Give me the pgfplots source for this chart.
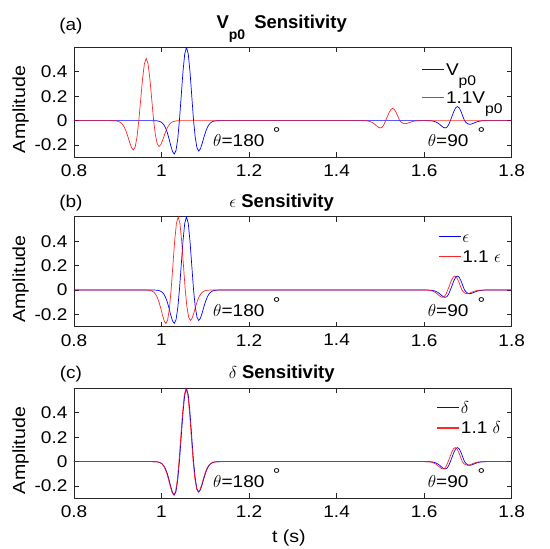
\documentclass[border=0pt]{standalone}
\usepackage{pgfplots}
\usepackage{pgfplotstable}
\pgfplotsset{compat=1.18}
\usepackage{fontspec}
\setmainfont{Liberation Sans}[FakeStretch=1.12]
\newfontfamily\titlefont{Liberation Sans}

% baseline model (same in all panels)
\pgfplotstableread{
t y
0.800 0
0.977 0
0.981 -0.0002
0.985 -0.0005
0.989 -0.0014
0.993 -0.0036
0.997 -0.0080
1.001 -0.0167
1.005 -0.0324
1.009 -0.0583
1.013 -0.0966
1.017 -0.1468
1.021 -0.2031
1.025 -0.2517
1.029 -0.2732
1.033 -0.2448
1.037 -0.1510
1.041 0.0076
1.045 0.2045
1.049 0.4009
1.053 0.5463
1.057 0.6000
1.061 0.5463
1.065 0.4009
1.069 0.2045
1.073 0.0076
1.077 -0.1376
1.081 -0.2232
1.085 -0.2491
1.089 -0.2295
1.093 -0.1852
1.097 -0.1338
1.101 -0.0881
1.105 -0.0532
1.109 -0.0296
1.113 -0.0153
1.117 -0.0073
1.121 -0.0033
1.125 -0.0013
1.129 -0.0005
1.133 -0.0002
1.137 0
1.600 0
1.604 -0.0001
1.608 -0.0003
1.612 -0.0008
1.616 -0.0017
1.620 -0.0037
1.624 -0.0071
1.628 -0.0128
1.632 -0.0212
1.636 -0.0322
1.640 -0.0446
1.644 -0.0553
1.648 -0.0600
1.652 -0.0538
1.656 -0.0332
1.660 0.0014
1.664 0.0392
1.668 0.0768
1.672 0.1047
1.676 0.1150
1.680 0.1047
1.684 0.0768
1.688 0.0392
1.692 0.0014
1.696 -0.0166
1.700 -0.0269
1.704 -0.0300
1.708 -0.0276
1.712 -0.0223
1.716 -0.0161
1.720 -0.0106
1.724 -0.0064
1.728 -0.0036
1.732 -0.0018
1.736 -0.0009
1.740 -0.0004
1.744 0
1.800 0
}\baseline

% 1.1 Vp0
\pgfplotstableread{
t y
0.800 0
0.881 0
0.8852 -0.0002
0.8894 -0.0005
0.8936 -0.0013
0.8978 -0.0031
0.9020 -0.0070
0.9062 -0.0147
0.9104 -0.0285
0.9146 -0.0513
0.9188 -0.0849
0.9230 -0.1291
0.9272 -0.1785
0.9314 -0.2213
0.9356 -0.2401
0.9398 -0.2152
0.9440 -0.1327
0.9482 0.0064
0.9524 0.1739
0.9566 0.3407
0.9608 0.4644
0.9650 0.5100
0.9692 0.4644
0.9734 0.3407
0.9776 0.1739
0.9818 0.0064
0.9860 -0.1170
0.9902 -0.1897
0.9944 -0.2117
0.9986 -0.1951
1.0028 -0.1574
1.0070 -0.1138
1.0112 -0.0748
1.0154 -0.0452
1.0196 -0.0251
1.0238 -0.0129
1.0280 -0.0062
1.0322 -0.0028
1.0364 -0.0011
1.0406 -0.0004
1.0448 -0.0001
1.049 0
1.452 0
1.456 -0.0001
1.460 -0.0003
1.464 -0.0008
1.468 -0.0017
1.472 -0.0037
1.476 -0.0071
1.480 -0.0128
1.484 -0.0212
1.488 -0.0322
1.492 -0.0446
1.496 -0.0553
1.500 -0.0600
1.504 -0.0538
1.508 -0.0332
1.512 0.0013
1.516 0.0341
1.520 0.0668
1.524 0.0911
1.528 0.1000
1.532 0.0911
1.536 0.0668
1.540 0.0341
1.544 0.0013
1.548 -0.0138
1.552 -0.0224
1.556 -0.0250
1.560 -0.0230
1.564 -0.0186
1.568 -0.0134
1.572 -0.0088
1.576 -0.0053
1.580 -0.0030
1.584 -0.0015
1.588 -0.0007
1.592 -0.0003
1.596 0
1.800 0
}\vpred

% 1.1 epsilon
\pgfplotstableread{
t y
0.800 0
0.958 0
0.962 -0.0002
0.966 -0.0005
0.970 -0.0014
0.974 -0.0036
0.978 -0.0080
0.982 -0.0167
0.986 -0.0324
0.990 -0.0583
0.994 -0.0966
0.998 -0.1468
1.002 -0.2031
1.006 -0.2517
1.010 -0.2732
1.014 -0.2448
1.018 -0.1510
1.022 0.0076
1.026 0.2045
1.030 0.4009
1.034 0.5463
1.038 0.6000
1.042 0.5463
1.046 0.4009
1.050 0.2045
1.054 0.0076
1.058 -0.1376
1.062 -0.2232
1.066 -0.2491
1.070 -0.2295
1.074 -0.1852
1.078 -0.1338
1.082 -0.0881
1.086 -0.0532
1.090 -0.0296
1.094 -0.0153
1.098 -0.0073
1.102 -0.0033
1.106 -0.0013
1.110 -0.0005
1.114 -0.0002
1.118 0
1.594 0
1.598 -0.0001
1.602 -0.0003
1.606 -0.0008
1.610 -0.0017
1.614 -0.0037
1.618 -0.0071
1.622 -0.0128
1.626 -0.0212
1.630 -0.0322
1.634 -0.0446
1.638 -0.0553
1.642 -0.0600
1.646 -0.0538
1.650 -0.0332
1.654 0.0014
1.658 0.0392
1.662 0.0768
1.666 0.1047
1.670 0.1150
1.674 0.1047
1.678 0.0768
1.682 0.0392
1.686 0.0014
1.690 -0.0166
1.694 -0.0269
1.698 -0.0300
1.702 -0.0276
1.706 -0.0223
1.710 -0.0161
1.714 -0.0106
1.718 -0.0064
1.722 -0.0036
1.726 -0.0018
1.730 -0.0009
1.734 -0.0004
1.738 0
1.800 0
}\epsred

% 1.1 delta
\pgfplotstableread{
t y
0.800 0
0.976 0
0.980 -0.0002
0.984 -0.0005
0.988 -0.0014
0.992 -0.0036
0.996 -0.0080
1.000 -0.0167
1.004 -0.0324
1.008 -0.0583
1.012 -0.0966
1.016 -0.1468
1.020 -0.2031
1.024 -0.2517
1.028 -0.2732
1.032 -0.2448
1.036 -0.1510
1.040 0.0076
1.044 0.2045
1.048 0.4009
1.052 0.5463
1.056 0.6000
1.060 0.5463
1.064 0.4009
1.068 0.2045
1.072 0.0076
1.076 -0.1376
1.080 -0.2232
1.084 -0.2491
1.088 -0.2295
1.092 -0.1852
1.096 -0.1338
1.100 -0.0881
1.104 -0.0532
1.108 -0.0296
1.112 -0.0153
1.116 -0.0073
1.120 -0.0033
1.124 -0.0013
1.128 -0.0005
1.132 -0.0002
1.136 0
1.595 0
1.599 -0.0001
1.603 -0.0003
1.607 -0.0008
1.611 -0.0017
1.615 -0.0037
1.619 -0.0071
1.623 -0.0128
1.627 -0.0212
1.631 -0.0322
1.635 -0.0446
1.639 -0.0553
1.643 -0.0600
1.647 -0.0538
1.651 -0.0332
1.655 0.0014
1.659 0.0392
1.663 0.0768
1.667 0.1047
1.671 0.1150
1.675 0.1047
1.679 0.0768
1.683 0.0392
1.687 0.0014
1.691 -0.0166
1.695 -0.0269
1.699 -0.0300
1.703 -0.0276
1.707 -0.0223
1.711 -0.0161
1.715 -0.0106
1.719 -0.0064
1.723 -0.0036
1.727 -0.0018
1.731 -0.0009
1.735 -0.0004
1.739 0
1.800 0
}\delred

\pgfplotsset{
 legend image code/.code={%
   \draw[#1,line width=1.1pt] plot coordinates {(0pt,6pt) (11pt,6pt) (22pt,6pt)};
   \path (0pt,0pt);},
 panel/.style={
  scale only axis, width=437.7pt, height=110pt,
  xmin=0.8, xmax=1.8, ymin=-0.3, ymax=0.6,
  xtick={0.8,1,1.2,1.4,1.6,1.8}, ytick={-0.2,0,0.2,0.4},
  tick align=inside, major tick length=5pt,
  /pgf/number format/assume math mode=true,
  tick label style={font=\fontsize{17}{17}\selectfont},
  yticklabel style={xshift=-3pt},
  xticklabel style={yshift=-4pt},
  axis line style={line width=0.6pt, black!85},
  every tick/.style={line width=0.6pt, black!85},
  anchor=south west,
  clip mode=individual,
  ylabel={Amplitude},
  every axis y label/.style={at={(rel axis cs:-0.122,0.435)}, rotate=90, anchor=center, font=\fontsize{17.5}{17.5}\selectfont},
  every axis title/.style={at={(rel axis cs:0.4745,1)}, anchor=base, yshift=9.4pt, font=\fontsize{18.5}{18.5}\selectfont\titlefont\bfseries},
  legend style={draw=none, fill=none, font=\fontsize{17}{17}\selectfont, anchor=north east, inner sep=0pt, nodes={inner sep=1pt}, cells={anchor=base west}},
 },
}
\tikzset{
 ann/.style={font=\fontsize{17}{17}\selectfont, inner sep=0pt},
 lab/.style={font=\fontsize{17}{17}\selectfont, anchor=base, inner sep=0pt},
}

\begin{document}
\begin{tikzpicture}
\useasboundingbox (0pt,0pt) rectangle (550pt,549pt);

% ---------------- (a)
\begin{axis}[panel, at={(74pt,391.7pt)},
  title={V\raisebox{-11pt}{\fontsize{14}{14}\selectfont\titlefont\bfseries p0}\hspace{9pt}Sensitivity},
  title style={yshift=9.6pt},
  legend style={row sep=12.5pt, at={(rel axis cs:0.982,0.859)}}]
\addplot[color=blue, line width=0.7pt, mark=none] table {\baseline};
\addlegendentry{V\raisebox{-10pt}[0pt][0pt]{\fontsize{14}{14}\selectfont p0}}
\addplot[color=red, line width=0.7pt, mark=none, opacity=0.85] table {\vpred};
\addlegendentry{1.1V\raisebox{-10pt}[0pt][0pt]{\fontsize{14}{14}\selectfont p0}}
\node[ann, anchor=base west] at (axis cs:1.1176,-0.215) {$\theta$=180};
\node[ann, anchor=center, yshift=-3.6pt] at (axis cs:1.263,-0.08) {°};
\node[ann, anchor=base west] at (axis cs:1.608,-0.215) {$\theta$=90};
\node[ann, anchor=center, yshift=-3.6pt] at (axis cs:1.731,-0.08) {°};
\node[lab, yshift=16.8pt] at (rel axis cs:-0.007,1) {(a)};
\end{axis}

% ---------------- (b)
\begin{axis}[panel, at={(74pt,222.3pt)},
  title={$\epsilon$ Sensitivity},
  legend style={row sep=5pt, at={(rel axis cs:0.978,0.848)}}]
\addplot[color=blue, line width=0.7pt, mark=none] table {\baseline};
\addlegendentry{$\epsilon$}
\addplot[color=red, line width=0.7pt, mark=none, opacity=0.85] table {\epsred};
\addlegendentry{1.1 $\epsilon$}
\node[ann, anchor=base west] at (axis cs:1.1176,-0.215) {$\theta$=180};
\node[ann, anchor=center, yshift=-3.6pt] at (axis cs:1.263,-0.08) {°};
\node[ann, anchor=base west] at (axis cs:1.608,-0.215) {$\theta$=90};
\node[ann, anchor=center, yshift=-3.6pt] at (axis cs:1.731,-0.08) {°};
\node[lab, yshift=9.2pt] at (rel axis cs:-0.007,1) {(b)};
\end{axis}

% ---------------- (c)
\begin{axis}[panel, at={(74pt,50.7pt)},
  title={$\delta$ Sensitivity},
  xlabel={t (s)},
  every axis x label/.style={at={(rel axis cs:0.491,-0.364)}, anchor=center, font=\fontsize{17.5}{17.5}\selectfont},
  legend style={row sep=5pt, at={(rel axis cs:0.978,0.891)}}]
\addplot[color=blue, line width=0.7pt, mark=none] table {\baseline};
\addlegendentry{$\delta$}
\addplot[color=red, line width=0.7pt, mark=none, opacity=0.85] table {\delred};
\addlegendentry{1.1 $\delta$}
\node[ann, anchor=base west] at (axis cs:1.1176,-0.215) {$\theta$=180};
\node[ann, anchor=center, yshift=-3.6pt] at (axis cs:1.263,-0.08) {°};
\node[ann, anchor=base west] at (axis cs:1.608,-0.215) {$\theta$=90};
\node[ann, anchor=center, yshift=-3.6pt] at (axis cs:1.731,-0.08) {°};
\node[lab, yshift=10pt] at (rel axis cs:-0.007,1) {(c)};
\end{axis}
\end{tikzpicture}
\end{document}
